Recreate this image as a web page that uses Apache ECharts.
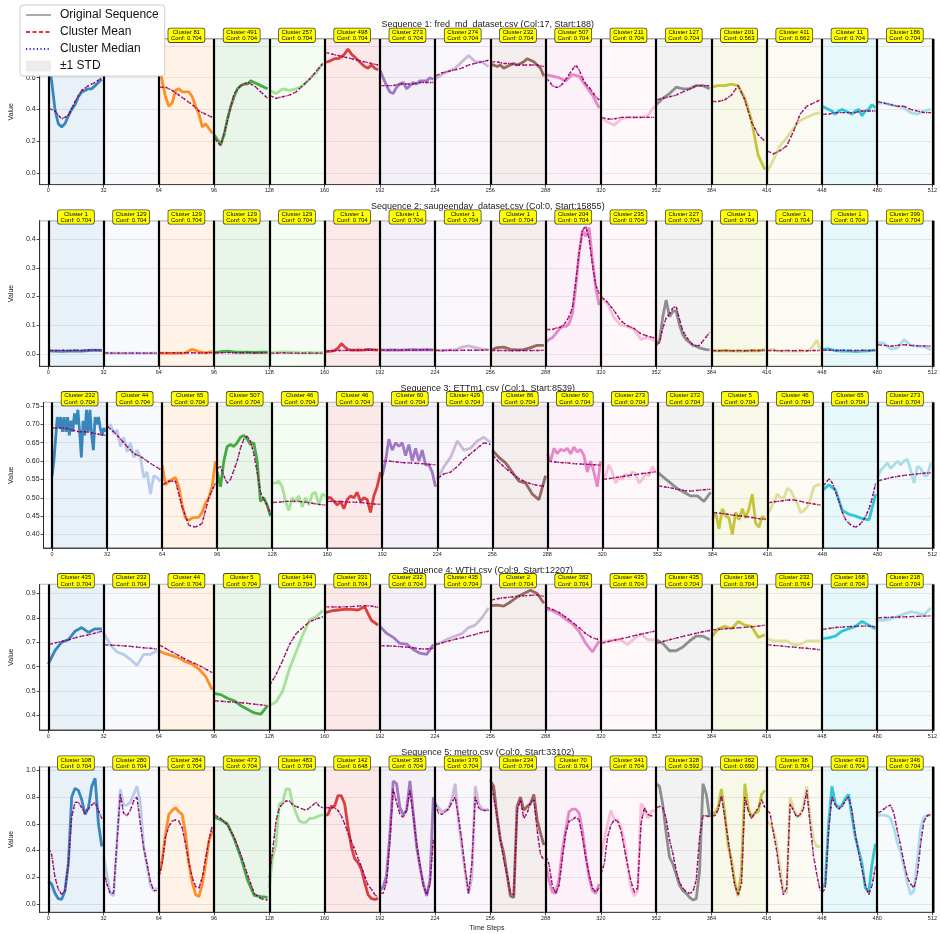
<!DOCTYPE html>
<html><head><meta charset="utf-8">
<script src="https://cdn.jsdelivr.net/npm/echarts@6/dist/echarts.min.js"></script>
<style>html,body{margin:0;padding:0;background:#fff}#c{width:940px;height:934px}</style>
</head><body><div id="c"></div>
<script>
// ---------------- DATA ----------------
const SEG = 32;
const boundaries = [0,32,64,96,128,160,192,224,256,288,320,352,384,416,448,480,512];
const xTickLabels = [0,32,64,96,128,160,192,224,256,288,320,352,384,416,448,480,512];
const segColors = ['#1f77b4','#aec7e8','#ff7f0e','#2ca02c','#98df8a','#d62728','#9467bd','#c5b0d5','#8c564b','#e377c2','#f7b6d2','#7f7f7f','#bcbd22','#dbdb8d','#17becf','#9edae5'];
const titles = [
  'Sequence 1: fred_md_dataset.csv (Col:17, Start:188)',
  'Sequence 2: saugeenday_dataset.csv (Col:0, Start:15855)',
  'Sequence 3: ETTm1.csv (Col:1, Start:8539)',
  'Sequence 4: WTH.csv (Col:9, Start:12207)',
  'Sequence 5: metro.csv (Col:0, Start:33102)'
];
const yLimits = [[-0.074,0.844],[-0.043,0.464],[0.363,0.760],[0.340,0.937],[-0.062,1.027]];
const yTickStep = [0.2,0.1,0.05,0.1,0.2];
const yTickDecimals = [1,1,2,1,1];

const c1 = [435,44,81,491,257,498,273,274,232,507,211,127,201,411,11,186];
const f1 = [0.704,0.704,0.704,0.704,0.704,0.704,0.704,0.704,0.704,0.704,0.704,0.704,0.563,0.662,0.704,0.704];
const c2 = [1,129,129,129,129,1,1,1,1,204,235,227,1,1,1,399];
const f2 = [0.704,0.704,0.704,0.704,0.704,0.704,0.704,0.704,0.704,0.704,0.704,0.704,0.704,0.704,0.704,0.704];
const c3 = [232,44,65,507,46,46,60,429,86,60,273,272,5,46,65,273];
const f3 = [0.704,0.704,0.704,0.704,0.704,0.704,0.704,0.704,0.704,0.704,0.704,0.704,0.704,0.704,0.704,0.704];
const c4 = [435,232,44,5,144,331,232,435,2,382,435,435,168,232,168,218];
const f4 = [0.704,0.704,0.704,0.704,0.704,0.704,0.704,0.704,0.704,0.704,0.704,0.704,0.704,0.704,0.704,0.704];
const c5 = [108,280,284,473,483,142,395,379,234,70,341,328,362,38,431,346];
const f5 = [0.704,0.704,0.704,0.704,0.704,0.648,0.704,0.704,0.704,0.704,0.704,0.592,0.690,0.704,0.704,0.704];

// original sequences (each segment sampled evenly over its 32 steps)
const o1 = [
 [0.70,0.58,0.40,0.31,0.29,0.31,0.36,0.40,0.43,0.48,0.51,0.52,0.53,0.53,0.55,0.57,0.59],
 [0.68,0.70,0.72,0.71,0.70,0.72,0.73,0.72,0.70],
 [0.72,0.58,0.48,0.42,0.44,0.52,0.53,0.51,0.51,0.51,0.48,0.42,0.37,0.29,0.31,0.28,0.25],
 [0.24,0.21,0.18,0.24,0.34,0.42,0.48,0.53,0.55,0.56,0.56,0.58,0.57,0.56,0.55,0.54,0.53],
 [0.52,0.50,0.53,0.52,0.53,0.55,0.59,0.63,0.69],
 [0.70,0.70,0.71,0.72,0.72,0.73,0.75,0.78,0.75,0.73,0.71,0.69,0.67,0.66,0.68,0.66,0.65],
 [0.65,0.60,0.55,0.51,0.50,0.54,0.56,0.57,0.53,0.55,0.57,0.56,0.58,0.58,0.58,0.60,0.59],
 [0.59,0.62,0.64,0.66,0.70,0.74,0.70,0.70,0.67],
 [0.68,0.68,0.67,0.68,0.66,0.67,0.68,0.69,0.68,0.69,0.70,0.72,0.71,0.70,0.68,0.66,0.61],
 [0.62,0.61,0.60,0.58,0.62,0.61,0.55,0.49,0.41],
 [0.35,0.32,0.30,0.34,0.35,0.35,0.35,0.36,0.42],
 [0.43,0.47,0.50,0.54,0.53,0.53,0.55,0.55,0.53],
 [0.54,0.55,0.55,0.56,0.55,0.47,0.33,0.11,0.02],
 [0.00,0.08,0.17,0.22,0.28,0.33,0.35,0.37,0.38],
 [0.42,0.41,0.40,0.39,0.37,0.39,0.40,0.39,0.38,0.37,0.39,0.40,0.36,0.39,0.40,0.43,0.41],
 [0.44,0.44,0.43,0.42,0.41,0.38,0.37,0.39,0.40]
];
const m1 = [
 [0.41,0.39,0.34,0.36,0.45,0.52,0.55,0.57,0.60],
 [0.68,0.69,0.70,0.70,0.71,0.71,0.72,0.72,0.72],
 [0.54,0.54,0.52,0.49,0.46,0.43,0.39,0.37,0.35],
 [0.22,0.17,0.33,0.50,0.55,0.57,0.55,0.51,0.47],
 [0.49,0.47,0.48,0.49,0.51,0.55,0.59,0.64,0.69],
 [0.76,0.75,0.74,0.73,0.72,0.71,0.70,0.69,0.68],
 [0.55,0.55,0.55,0.56,0.56,0.56,0.57,0.57,0.57],
 [0.61,0.63,0.64,0.65,0.66,0.68,0.69,0.70,0.71],
 [0.70,0.70,0.69,0.69,0.68,0.68,0.68,0.68,0.67],
 [0.60,0.58,0.55,0.54,0.54,0.56,0.59,0.62,0.65,0.68,0.65,0.60,0.56,0.54,0.51,0.48,0.46],
 [0.35,0.34,0.34,0.35,0.35,0.35,0.35,0.35,0.35],
 [0.46,0.47,0.48,0.49,0.51,0.53,0.55,0.55,0.55],
 [0.45,0.45,0.46,0.49,0.55,0.46,0.32,0.24,0.20],
 [0.14,0.12,0.14,0.17,0.26,0.37,0.42,0.44,0.46],
 [0.37,0.37,0.38,0.38,0.38,0.38,0.39,0.39,0.39],
 [0.45,0.44,0.43,0.42,0.42,0.40,0.39,0.38,0.38]
];

const o2 = [
 [0.011,0.010,0.009,0.010,0.011,0.010,0.012,0.013,0.012],
 [0.004,0.003,0.003,0.002,0.003,0.003,0.002,0.003,0.003],
 [0.003,0.003,0.002,0.003,0.004,0.016,0.008,0.004,0.008],
 [0.005,0.008,0.010,0.007,0.006,0.006,0.005,0.006,0.006],
 [0.004,0.005,0.007,0.006,0.005,0.004,0.005,0.004,0.005],
 [0.008,0.009,0.010,0.012,0.020,0.036,0.025,0.015,0.013,0.013,0.014,0.013,0.014,0.016,0.015,0.014,0.013],
 [0.014,0.013,0.014,0.013,0.014,0.015,0.014,0.015,0.014],
 [0.012,0.012,0.013,0.014,0.024,0.028,0.022,0.017,0.015],
 [0.012,0.022,0.024,0.016,0.014,0.015,0.022,0.030,0.030],
 [0.040,0.050,0.056,0.070,0.085,0.096,0.096,0.105,0.140,0.230,0.350,0.430,0.410,0.440,0.330,0.230,0.170],
 [0.200,0.175,0.125,0.100,0.096,0.085,0.050,0.058,0.045],
 [0.040,0.044,0.130,0.188,0.130,0.148,0.150,0.100,0.067,0.050,0.040,0.030,0.027,0.021,0.018,0.015,0.014],
 [0.012,0.011,0.012,0.011,0.010,0.011,0.012,0.011,0.016],
 [0.012,0.014,0.016,0.012,0.010,0.010,0.011,0.010,0.011,0.010,0.011,0.010,0.012,0.015,0.030,0.048,0.015],
 [0.015,0.018,0.012,0.010,0.011,0.008,0.010,0.011,0.013],
 [0.040,0.038,0.018,0.020,0.050,0.030,0.027,0.025,0.015]
];
const m2 = [
 [0.013,0.012,0.013,0.012,0.013,0.012,0.014,0.013,0.014],
 [0.004,0.003,0.003,0.003,0.003,0.003,0.003,0.003,0.003],
 [0.004,0.003,0.004,0.003,0.004,0.004,0.003,0.004,0.004],
 [0.004,0.004,0.005,0.004,0.004,0.005,0.004,0.004,0.005],
 [0.003,0.003,0.004,0.003,0.003,0.003,0.003,0.003,0.003],
 [0.010,0.011,0.012,0.012,0.013,0.013,0.014,0.014,0.015],
 [0.014,0.013,0.014,0.013,0.014,0.014,0.014,0.015,0.014],
 [0.013,0.012,0.013,0.012,0.013,0.013,0.013,0.013,0.014],
 [0.012,0.012,0.012,0.011,0.012,0.012,0.012,0.012,0.013],
 [0.085,0.085,0.085,0.090,0.092,0.096,0.110,0.130,0.160,0.250,0.350,0.430,0.445,0.400,0.310,0.240,0.210],
 [0.200,0.180,0.150,0.115,0.098,0.088,0.070,0.062,0.056],
 [0.030,0.040,0.090,0.125,0.140,0.160,0.165,0.120,0.080,0.060,0.045,0.032,0.028,0.030,0.045,0.060,0.075],
 [0.012,0.011,0.012,0.011,0.012,0.011,0.012,0.012,0.012],
 [0.012,0.012,0.011,0.012,0.011,0.012,0.011,0.012,0.012],
 [0.013,0.013,0.012,0.013,0.012,0.012,0.013,0.012,0.013],
 [0.032,0.030,0.027,0.030,0.032,0.030,0.028,0.028,0.027]
];

const o3 = [
 [0.56,0.60,0.66,0.72,0.69,0.72,0.68,0.72,0.68,0.72,0.67,0.71,0.68,0.73,0.70,0.74,0.68,0.61,0.71,0.67,0.74,0.68,0.74,0.67,0.63,0.72,0.70,0.72,0.69,0.67,0.69,0.68],
 [0.69,0.70,0.675,0.685,0.64,0.665,0.625,0.65,0.61,0.63,0.61,0.555,0.57,0.51,0.56,0.555,0.545],
 [0.59,0.535,0.545,0.55,0.555,0.53,0.48,0.445,0.438,0.445,0.446,0.447,0.46,0.485,0.50,0.53,0.60],
 [0.57,0.53,0.60,0.64,0.645,0.64,0.65,0.665,0.67,0.66,0.645,0.65,0.60,0.49,0.50,0.48,0.45],
 [0.54,0.54,0.545,0.53,0.49,0.465,0.50,0.49,0.505,0.475,0.50,0.48,0.51,0.515,0.48,0.51,0.505],
 [0.50,0.50,0.49,0.48,0.49,0.47,0.495,0.505,0.50,0.515,0.49,0.50,0.495,0.46,0.505,0.53,0.57],
 [0.56,0.60,0.66,0.63,0.65,0.64,0.65,0.615,0.645,0.60,0.635,0.60,0.63,0.59,0.59,0.57,0.53],
 [0.55,0.585,0.61,0.655,0.63,0.635,0.655,0.665,0.65],
 [0.63,0.61,0.595,0.57,0.545,0.54,0.51,0.495,0.56],
 [0.62,0.60,0.635,0.62,0.632,0.628,0.635,0.62,0.638,0.625,0.632,0.615,0.57,0.60,0.57,0.53,0.60],
 [0.56,0.56,0.59,0.57,0.54,0.555,0.55,0.565,0.555,0.57,0.565,0.54,0.55,0.565,0.56,0.585,0.57],
 [0.57,0.555,0.54,0.525,0.515,0.505,0.505,0.49,0.515],
 [0.44,0.46,0.415,0.47,0.45,0.445,0.40,0.46,0.44,0.47,0.445,0.47,0.51,0.43,0.42,0.45,0.44],
 [0.455,0.47,0.49,0.51,0.50,0.50,0.525,0.52,0.50,0.485,0.46,0.465,0.475,0.50,0.53,0.535,0.535],
 [0.52,0.535,0.52,0.465,0.455,0.45,0.443,0.44,0.51],
 [0.555,0.575,0.585,0.595,0.58,0.59,0.60,0.59,0.60,0.605,0.575,0.54,0.585,0.58,0.56,0.56,0.595]
];
const m3 = [
 [0.69,0.69,0.69,0.685,0.68,0.68,0.677,0.673,0.67],
 [0.695,0.68,0.66,0.64,0.62,0.613,0.60,0.588,0.577],
 [0.535,0.545,0.545,0.475,0.425,0.42,0.43,0.50,0.54],
 [0.58,0.585,0.56,0.54,0.55,0.575,0.60,0.635,0.66,0.668,0.655,0.62,0.57,0.515,0.495,0.48,0.455],
 [0.487,0.488,0.49,0.49,0.49,0.488,0.485,0.482,0.48],
 [0.49,0.49,0.49,0.488,0.488,0.487,0.485,0.483,0.482],
 [0.60,0.60,0.598,0.596,0.595,0.594,0.593,0.591,0.59],
 [0.552,0.565,0.57,0.585,0.605,0.62,0.635,0.65,0.645],
 [0.618,0.597,0.58,0.566,0.552,0.543,0.537,0.533,0.532],
 [0.60,0.598,0.596,0.595,0.593,0.592,0.591,0.59,0.589],
 [0.55,0.552,0.555,0.558,0.561,0.563,0.566,0.568,0.571],
 [0.533,0.53,0.527,0.523,0.52,0.518,0.52,0.522,0.523],
 [0.46,0.458,0.456,0.453,0.451,0.449,0.446,0.443,0.441],
 [0.486,0.489,0.491,0.494,0.494,0.49,0.486,0.483,0.48],
 [0.53,0.54,0.552,0.54,0.515,0.49,0.46,0.44,0.43,0.423,0.42,0.425,0.435,0.45,0.47,0.50,0.54],
 [0.546,0.55,0.555,0.558,0.561,0.563,0.565,0.567,0.568]
];

const o4 = [
 [0.61,0.665,0.70,0.71,0.745,0.76,0.74,0.755,0.755],
 [0.74,0.69,0.66,0.65,0.63,0.605,0.65,0.65,0.665],
 [0.665,0.653,0.645,0.635,0.62,0.61,0.59,0.56,0.505],
 [0.49,0.485,0.47,0.46,0.44,0.425,0.41,0.405,0.44],
 [0.44,0.455,0.50,0.59,0.66,0.73,0.79,0.805,0.83],
 [0.82,0.828,0.832,0.835,0.835,0.832,0.845,0.79,0.77],
 [0.765,0.737,0.72,0.695,0.692,0.67,0.655,0.65,0.69],
 [0.69,0.70,0.715,0.725,0.735,0.76,0.77,0.80,0.84],
 [0.85,0.852,0.848,0.865,0.885,0.90,0.913,0.90,0.86],
 [0.835,0.83,0.815,0.795,0.775,0.745,0.695,0.66,0.705],
 [0.70,0.705,0.71,0.708,0.69,0.715,0.735,0.71,0.71],
 [0.71,0.695,0.665,0.665,0.68,0.705,0.725,0.725,0.71],
 [0.72,0.755,0.765,0.755,0.785,0.77,0.765,0.72,0.73],
 [0.715,0.705,0.705,0.705,0.69,0.69,0.705,0.705,0.705],
 [0.715,0.718,0.725,0.745,0.755,0.765,0.785,0.77,0.755],
 [0.79,0.79,0.795,0.805,0.815,0.825,0.82,0.812,0.84]
];
const m4 = [
 [0.69,0.697,0.703,0.71,0.718,0.725,0.73,0.737,0.745],
 [0.69,0.688,0.687,0.685,0.683,0.68,0.677,0.675,0.672],
 [0.69,0.675,0.66,0.645,0.63,0.617,0.605,0.59,0.575],
 [0.46,0.458,0.456,0.454,0.452,0.449,0.446,0.443,0.44],
 [0.52,0.567,0.625,0.69,0.735,0.76,0.784,0.795,0.805],
 [0.845,0.845,0.844,0.845,0.846,0.848,0.85,0.848,0.843],
 [0.686,0.685,0.684,0.682,0.68,0.677,0.673,0.672,0.675],
 [0.69,0.697,0.705,0.712,0.718,0.725,0.732,0.74,0.745],
 [0.872,0.878,0.882,0.885,0.888,0.89,0.892,0.894,0.888],
 [0.845,0.835,0.822,0.803,0.782,0.76,0.735,0.718,0.71],
 [0.695,0.702,0.708,0.714,0.72,0.727,0.733,0.739,0.745],
 [0.695,0.703,0.71,0.717,0.724,0.73,0.737,0.743,0.748],
 [0.75,0.752,0.755,0.757,0.759,0.761,0.763,0.766,0.77],
 [0.69,0.687,0.685,0.682,0.68,0.677,0.675,0.672,0.669],
 [0.752,0.756,0.76,0.762,0.764,0.765,0.766,0.766,0.764],
 [0.80,0.801,0.802,0.803,0.804,0.805,0.806,0.807,0.808]
];

const o5 = [
 [0.17,0.15,0.08,0.04,0.035,0.10,0.30,0.80,0.865,0.85,0.78,0.67,0.72,0.88,0.94,0.60,0.43],
 [0.36,0.22,0.08,0.06,0.45,0.86,0.74,0.74,0.76,0.82,0.88,0.76,0.43,0.28,0.14,0.10,0.12],
 [0.22,0.33,0.52,0.67,0.70,0.72,0.69,0.67,0.53,0.30,0.16,0.07,0.055,0.15,0.30,0.47,0.55],
 [0.65,0.63,0.60,0.49,0.35,0.18,0.065,0.055,0.05],
 [0.12,0.35,0.45,0.75,0.76,0.86,0.86,0.75,0.68,0.62,0.61,0.61,0.64,0.64,0.65,0.66,0.67],
 [0.66,0.67,0.73,0.73,0.81,0.81,0.75,0.58,0.43,0.34,0.31,0.26,0.16,0.07,0.04,0.035,0.04],
 [0.10,0.13,0.21,0.52,0.92,0.90,0.72,0.67,0.70,0.92,0.68,0.43,0.28,0.15,0.06,0.18,0.80],
 [0.76,0.72,0.69,0.70,0.71,0.78,0.90,0.62,0.43,0.24,0.08,0.20,0.88,0.75,0.71,0.70,0.71],
 [0.92,0.88,0.66,0.48,0.38,0.22,0.06,0.05,0.73,0.80,0.70,0.73,0.75,0.82,0.63,0.53,0.44],
 [0.30,0.18,0.09,0.08,0.18,0.40,0.55,0.69,0.71,0.71,0.68,0.55,0.36,0.20,0.10,0.08,0.15],
 [0.35,0.48,0.60,0.70,0.63,0.63,0.58,0.47,0.28,0.12,0.06,0.10,0.75,0.72,0.64,0.69,0.70],
 [0.90,0.88,0.74,0.53,0.35,0.30,0.22,0.14,0.10,0.08,0.05,0.03,0.04,0.25,0.90,0.82,0.65],
 [0.67,0.68,0.72,0.86,0.68,0.44,0.33,0.16,0.06,0.25,0.90,0.72,0.65,0.68,0.69,0.82,0.85],
 [0.62,0.60,0.55,0.45,0.27,0.10,0.08,0.80,0.72,0.65,0.66,0.74,0.88,0.65,0.48,0.43,0.43],
 [0.12,0.15,0.60,0.88,0.75,0.72,0.74,0.79,0.82,0.65,0.50,0.40,0.30,0.12,0.09,0.30,0.45],
 [0.66,0.665,0.665,0.66,0.64,0.57,0.46,0.39,0.28,0.16,0.07,0.10,0.33,0.57,0.65,0.665,0.665]
];
const m5 = [
 [0.42,0.37,0.20,0.11,0.07,0.10,0.30,0.65,0.76,0.76,0.72,0.68,0.71,0.74,0.76,0.70,0.64],
 [0.25,0.15,0.08,0.08,0.46,0.82,0.68,0.66,0.70,0.77,0.80,0.60,0.42,0.30,0.17,0.10,0.10],
 [0.20,0.30,0.50,0.58,0.62,0.63,0.62,0.57,0.45,0.31,0.20,0.13,0.12,0.20,0.34,0.48,0.59],
 [0.67,0.64,0.59,0.50,0.37,0.22,0.08,0.04,0.03],
 [0.20,0.40,0.62,0.72,0.75,0.77,0.77,0.74,0.73,0.72,0.71,0.70,0.72,0.74,0.76,0.73,0.72],
 [0.72,0.72,0.72,0.72,0.70,0.66,0.60,0.53,0.47,0.41,0.34,0.28,0.21,0.14,0.11,0.07,0.05],
 [0.08,0.08,0.16,0.47,0.86,0.76,0.67,0.65,0.70,0.85,0.66,0.45,0.29,0.14,0.07,0.15,0.48],
 [0.76,0.68,0.67,0.69,0.71,0.76,0.80,0.65,0.47,0.26,0.08,0.30,0.80,0.72,0.70,0.70,0.70],
 [0.93,0.80,0.66,0.48,0.33,0.22,0.08,0.07,0.70,0.78,0.64,0.68,0.76,0.78,0.55,0.37,0.33],
 [0.36,0.30,0.14,0.08,0.14,0.34,0.53,0.62,0.63,0.65,0.63,0.50,0.35,0.22,0.12,0.09,0.12],
 [0.22,0.30,0.50,0.59,0.63,0.62,0.55,0.42,0.29,0.17,0.09,0.12,0.60,0.72,0.67,0.66,0.66],
 [0.72,0.73,0.72,0.64,0.48,0.38,0.25,0.16,0.12,0.09,0.08,0.09,0.18,0.50,0.66,0.66,0.65],
 [0.66,0.66,0.70,0.81,0.65,0.48,0.30,0.14,0.07,0.15,0.80,0.70,0.64,0.68,0.72,0.78,0.72],
 [0.70,0.68,0.54,0.40,0.22,0.07,0.12,0.75,0.70,0.65,0.67,0.71,0.85,0.60,0.36,0.22,0.10],
 [0.08,0.12,0.55,0.80,0.74,0.71,0.73,0.77,0.80,0.70,0.52,0.38,0.26,0.14,0.07,0.14,0.28],
 [0.68,0.69,0.71,0.73,0.74,0.68,0.55,0.44,0.31,0.20,0.15,0.12,0.22,0.45,0.62,0.66,0.67]
];

const origAll = [o1,o2,o3,o4,o5];
const meanAll = [m1,m2,m3,m4,m5];
const clusterAll = [c1,c2,c3,c4,c5];
const confAll = [f1,f2,f3,f4,f5];

// ---------------- CHART ----------------
const FONT = "'Liberation Sans', Arial, sans-serif";
const gridTops = [39, 220.7, 402.4, 584.4, 766.7];
const gridH = 145.6;
const plotCenterX = 487.8;
const chart = echarts.init(document.getElementById('c'), null, {renderer: 'canvas'});

function segData(vals, seg) {
  const n = vals.length;
  return vals.map((v, k) => [seg * SEG + k * (SEG - 1) / (n - 1), v]);
}

const grids = [], xAxes = [], yAxes = [], series = [], titleTexts = [];
for (let g = 0; g < 5; g++) {
  grids.push({left: 36.6, right: 1.1, top: gridTops[g], height: gridH, show: true,
    borderColor: '#222', borderWidth: 0.8, backgroundColor: 'transparent'});
  xAxes.push({type: 'value', gridIndex: g, min: -5, max: 513, minInterval: 32, maxInterval: 32,
    axisLine: {show: true, onZero: false, lineStyle: {color: '#222', width: 0.8}},
    axisTick: {show: true, length: 3, lineStyle: {color: '#222', width: 0.8}},
    axisLabel: {fontSize: 5.5, color: '#222', margin: 3, fontFamily: FONT, showMinLabel: false, showMaxLabel: false,
      formatter: v => (xTickLabels.indexOf(v) >= 0 ? String(v) : '')},
    splitLine: {show: false},
    name: g === 4 ? 'Time Steps' : '', nameLocation: 'middle', nameGap: 12,
    nameTextStyle: {fontSize: 7, color: '#222', fontFamily: FONT}});
  const st = yTickStep[g];
  yAxes.push({type: 'value', gridIndex: g, min: yLimits[g][0], max: yLimits[g][1], minInterval: st, maxInterval: st,
    axisLine: {show: true, onZero: false, lineStyle: {color: '#222', width: 0.8}},
    axisTick: {show: true, length: 3, lineStyle: {color: '#222', width: 0.8}},
    axisLabel: {fontSize: 7, color: '#222', margin: 4, fontFamily: FONT, showMinLabel: false, showMaxLabel: false,
      formatter: v => v.toFixed(yTickDecimals[g])},
    splitLine: {show: true, lineStyle: {color: '#e4e4e4', width: 0.8}},
    name: 'Value', nameLocation: 'middle', nameGap: 24, nameRotate: 90,
    nameTextStyle: {fontSize: 7, color: '#222', fontFamily: FONT}});
  titleTexts.push({type: 'text', x: plotCenterX, y: gridTops[g] - 14, z: 0, silent: true,
    style: {text: titles[g], align: 'center', verticalAlign: 'middle', fontSize: 9, fill: '#222', fontFamily: FONT}});

  // background spans, boundaries, cluster labels
  const yTop = yLimits[g][1] - (yLimits[g][1] - yLimits[g][0]) * 0.0001;
  series.push({
    type: 'line', name: 'bg' + g, xAxisIndex: g, yAxisIndex: g, data: [], z: 1, silent: true, clip: false,
    markArea: {silent: true, data: segColors.map((c, i) => [
      {xAxis: boundaries[i], itemStyle: {color: c, opacity: 0.1}}, {xAxis: boundaries[i + 1]}])},
    markLine: {silent: true, symbol: ['none', 'none'], label: {show: false},
      lineStyle: {color: '#000', width: 2.2, type: 'solid'},
      data: boundaries.map(b => ({xAxis: b}))},
    markPoint: {silent: true, symbol: 'rect', symbolSize: 1, itemStyle: {color: 'rgba(0,0,0,0)'},
      data: clusterAll[g].map((c, i) => ({
        coord: [boundaries[i] + SEG / 2, yTop],
        label: {show: true, position: 'inside', offset: [0, -3.7],
          formatter: 'Cluster ' + c + '\nConf: ' + confAll[g][i].toFixed(3),
          fontSize: 6, lineHeight: 6.3, color: '#000', fontFamily: FONT, align: 'center',
          backgroundColor: '#ffff00', borderColor: '#444', borderWidth: 0.8, borderRadius: 2, padding: [0.8, 2.5, 0.2, 2.5]}
      }))}
  });
  for (let i = 0; i < 16; i++) {
    series.push({type: 'line', name: 'seg', xAxisIndex: g, yAxisIndex: g, z: 2, symbol: 'none', silent: true,
      data: segData(origAll[g][i], i), lineStyle: {color: segColors[i], width: 2.8, opacity: 0.88}});
  }
  for (let i = 0; i < 16; i++) {
    series.push({type: 'line', name: 'Cluster Mean', xAxisIndex: g, yAxisIndex: g, z: 3, symbol: 'none', silent: true,
      itemStyle: {color: '#ff0000'},
      data: segData(meanAll[g][i], i), lineStyle: {color: '#ff0000', width: 1.4, type: [4, 2.5], opacity: 0.85}});
  }
  for (let i = 0; i < 16; i++) {
    series.push({type: 'line', name: 'Cluster Median', xAxisIndex: g, yAxisIndex: g, z: 4, symbol: 'none', silent: true,
      itemStyle: {color: '#0000ff'},
      data: segData(meanAll[g][i], i), lineStyle: {color: '#0000ff', width: 1.4, type: [1.2, 2.4], opacity: 0.85}});
  }
}
// legend-only entries
series.push({type: 'line', name: 'Original Sequence', xAxisIndex: 0, yAxisIndex: 0, data: [], symbol: 'none',
  itemStyle: {color: '#aaaaaa'}, lineStyle: {color: '#aaaaaa', width: 1}});
series.push({type: 'line', name: '±1 STD', xAxisIndex: 0, yAxisIndex: 0, data: [], symbol: 'none',
  itemStyle: {color: '#ececec'}, lineStyle: {color: '#ececec', width: 0}});

chart.setOption({
  animation: false,
  backgroundColor: '#fff',
  textStyle: {fontFamily: FONT},
  graphic: titleTexts,
  grid: grids, xAxis: xAxes, yAxis: yAxes,
  legend: {left: 20, top: 5, orient: 'vertical', z: 50, selectedMode: false,
    backgroundColor: '#fff', borderColor: '#cccccc', borderWidth: 1, borderRadius: 3,
    padding: [4, 6, 4, 5], itemWidth: 25, itemHeight: 11, itemGap: 5,
    textStyle: {fontSize: 12, color: '#111', fontFamily: FONT, padding: [0, 0, 0, 4]},
    data: [
      {name: 'Original Sequence', itemStyle: {opacity: 0}},
      {name: 'Cluster Mean', itemStyle: {opacity: 0}},
      {name: 'Cluster Median', itemStyle: {opacity: 0}},
      {name: '±1 STD', icon: 'rect', itemStyle: {color: '#ececec', opacity: 1}}]},
  series: series
});
</script>
</body></html>
